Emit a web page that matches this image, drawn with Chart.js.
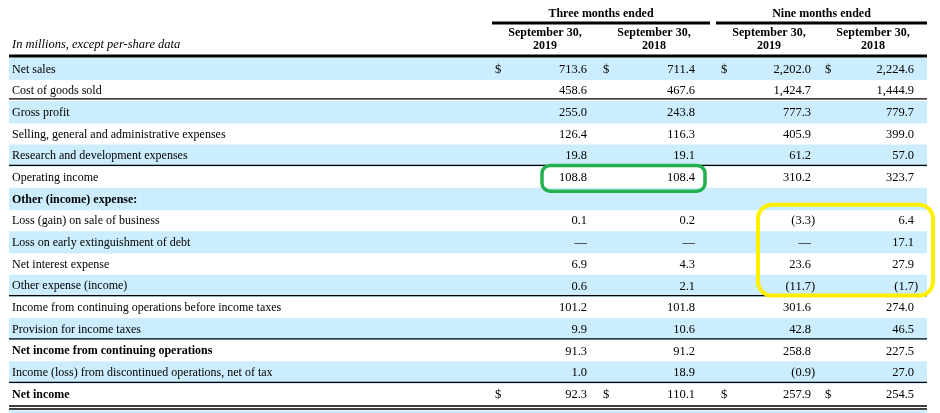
<!DOCTYPE html>
<html>
<head>
<meta charset="utf-8">
<script src="https://cdn.jsdelivr.net/npm/chart.js@4.4.0/dist/chart.umd.min.js"></script>
<style>
  html, body { margin: 0; padding: 0; background: #fff; }
  #wrap { width: 940px; height: 413px; position: relative; }
</style>
</head>
<body>
<div id="wrap"><canvas id="incomeTable"></canvas></div>
<script>
var unitsNote = 'In millions, except per-share data';
var periodLabels = ['Three months ended', 'Nine months ended'];
var columnDates = [['September 30,', '2019'], ['September 30,', '2018'], ['September 30,', '2019'], ['September 30,', '2018']];

var rowLabels = [
    'Net sales',
    'Cost of goods sold',
    'Gross profit',
    'Selling, general and administrative expenses',
    'Research and development expenses',
    'Operating income',
    'Other (income) expense:',
    'Loss (gain) on sale of business',
    'Loss on early extinguishment of debt',
    'Net interest expense',
    'Other expense (income)',
    'Income from continuing operations before income taxes',
    'Provision for income taxes',
    'Net income from continuing operations',
    'Income (loss) from discontinued operations, net of tax',
    'Net income'
];

// null = empty cell, 0 = shown as a dash
var threeMonths2019 = [713.6, 458.6, 255.0, 126.4, 19.8, 108.8, null, 0.1, 0, 6.9, 0.6, 101.2, 9.9, 91.3, 1.0, 92.3];
var threeMonths2018 = [711.4, 467.6, 243.8, 116.3, 19.1, 108.4, null, 0.2, 0, 4.3, 2.1, 101.8, 10.6, 91.2, 18.9, 110.1];
var nineMonths2019 = [2202.0, 1424.7, 777.3, 405.9, 61.2, 310.2, null, -3.3, 0, 23.6, -11.7, 301.6, 42.8, 258.8, -0.9, 257.9];
var nineMonths2018 = [2224.6, 1444.9, 779.7, 399.0, 57.0, 323.7, null, 6.4, 17.1, 27.9, -1.7, 274.0, 46.5, 227.5, 27.0, 254.5];

var boldRows = [6, 13, 15];
var dollarRows = [0, 15];
var ruleRows = [1, 4, 10, 12, 14];
var doubleRuleRows = [15];

var columns = [threeMonths2019, threeMonths2018, nineMonths2019, nineMonths2018];

// layout on the x scale (0 = left edge of the table)
var TABLE_W = 918;
var valueRight = [578, 686, 802, 905];
var dollarLeft = [486, 594, 712, 816];
var dateCenter = [536, 645, 760, 864];
var periodSpan = [[483, 701], [707, 918]];

var STRIPE = 'rgb(204, 237, 253)';
var FONT = "'Liberation Serif', 'Times New Roman', serif";

function withCommas(s) {
    var parts = s.split('.');
    parts[0] = parts[0].replace(/\B(?=(\d{3})+(?!\d))/g, ',');
    return parts.join('.');
}

function formatValue(v) {
    if (v === null) return '';
    if (v === 0) return '\u2014';
    var s = withCommas(Math.abs(v).toFixed(1));
    return v < 0 ? '(' + s + ')' : s;
}

function roundBox(ctx, x, y, w, h, r) {
    ctx.beginPath();
    ctx.moveTo(x + r, y);
    ctx.arcTo(x + w, y, x + w, y + h, r);
    ctx.arcTo(x + w, y + h, x, y + h, r);
    ctx.arcTo(x, y + h, x, y, r);
    ctx.arcTo(x, y, x + w, y, r);
    ctx.closePath();
    ctx.stroke();
}

function hline(ctx, x1, x2, y, w) {
    ctx.beginPath();
    ctx.lineWidth = w;
    ctx.strokeStyle = '#000';
    ctx.moveTo(x1, y);
    ctx.lineTo(x2, y);
    ctx.stroke();
}

var tablePlugin = {
    id: 'tableText',
    afterDatasetsDraw: function(chart) {
        var ctx = chart.ctx;
        var xs = chart.scales.x;
        var ys = chart.scales.y;
        var area = chart.chartArea;
        var rowH = (area.bottom - area.top) / rowLabels.length;
        var left = xs.getPixelForValue(0);
        var right = xs.getPixelForValue(TABLE_W);

        ctx.save();
        ctx.fillStyle = '#000';
        ctx.textBaseline = 'middle';

        // header
        ctx.font = 'italic 12.5px ' + FONT;
        ctx.textAlign = 'left';
        ctx.fillText(unitsNote, xs.getPixelForValue(3), area.top - 13);

        ctx.font = 'bold 12px ' + FONT;
        ctx.textAlign = 'center';
        periodLabels.forEach(function(p, i) {
            var a = xs.getPixelForValue(periodSpan[i][0]);
            var b = xs.getPixelForValue(periodSpan[i][1]);
            ctx.fillText(p, (a + b) / 2, area.top - 44);
            hline(ctx, a, b, area.top - 35, 3);
        });
        columnDates.forEach(function(d, i) {
            var cx = xs.getPixelForValue(dateCenter[i]);
            ctx.fillText(d[0], cx, area.top - 25);
            ctx.fillText(d[1], cx, area.top - 12);
        });
        hline(ctx, left, right, area.top - 2, 3);

        // rows
        rowLabels.forEach(function(label, r) {
            var cy = ys.getPixelForValue(r) + 0.5;
            var bold = boldRows.indexOf(r) >= 0;
            ctx.font = (bold ? 'bold ' : '') + '12px ' + FONT;
            ctx.textAlign = 'left';
            ctx.fillText(label, xs.getPixelForValue(3), cy);

            ctx.font = '12.5px ' + FONT;
            columns.forEach(function(col, c) {
                var v = col[r];
                var txt = formatValue(v);
                if (!txt) return;
                var rx = xs.getPixelForValue(valueRight[c]);
                if (v < 0) rx += ctx.measureText(')').width;
                ctx.textAlign = 'right';
                ctx.fillText(txt, rx, cy);
                if (dollarRows.indexOf(r) >= 0) {
                    ctx.textAlign = 'left';
                    ctx.fillText('$', xs.getPixelForValue(dollarLeft[c]), cy);
                }
            });

            var bottom = cy - 0.5 + rowH / 2;
            if (ruleRows.indexOf(r) >= 0) {
                hline(ctx, left, right, bottom - (r === 1 ? 2.5 : 1), 1.3);
            }
            if (doubleRuleRows.indexOf(r) >= 0) {
                hline(ctx, left, right, bottom + 1, 1.5);
                hline(ctx, left, right, bottom + 4, 1.5);
                ctx.fillStyle = STRIPE;
                ctx.fillRect(left, bottom + 5.5, right - left, chart.height - bottom - 5.5);
                ctx.fillStyle = '#000';
            }
        });

        // highlight boxes
        var r5 = ys.getPixelForValue(5);
        ctx.lineWidth = 3.5;
        ctx.strokeStyle = 'rgb(34, 177, 76)';
        var gx1 = xs.getPixelForValue(valueRight[0]) - 45;
        var gx2 = xs.getPixelForValue(valueRight[1]) + 10;
        roundBox(ctx, gx1, r5 - rowH / 2 - 1, gx2 - gx1, rowH + 4, 8);

        var top7 = ys.getPixelForValue(7) - rowH / 2;
        var bot10 = ys.getPixelForValue(10) + rowH / 2;
        ctx.strokeStyle = 'rgb(255, 240, 0)';
        ctx.lineWidth = 4;
        var yx1 = xs.getPixelForValue(valueRight[2]) - 53;
        var yx2 = xs.getPixelForValue(valueRight[3]) + 19;
        roundBox(ctx, yx1, top7 - 5, yx2 - yx1, bot10 - top7 + 4, 14);

        ctx.restore();
    }
};

var stripes = rowLabels.map(function(l, i) {
    return i % 2 === 0 ? [0, TABLE_W] : null;
});

new Chart(document.getElementById('incomeTable'), {
    type: 'bar',
    data: {
        labels: rowLabels,
        datasets: [{
            data: stripes,
            backgroundColor: STRIPE,
            borderWidth: 0,
            barPercentage: 1,
            categoryPercentage: 1
        }]
    },
    options: {
        indexAxis: 'y',
        responsive: true,
        maintainAspectRatio: false,
        animation: false,
        layout: { padding: { top: 58, left: 9, right: 13, bottom: 8 } },
        plugins: { legend: { display: false }, tooltip: { enabled: false } },
        scales: {
            x: { type: 'linear', min: 0, max: TABLE_W, display: false },
            y: { display: false }
        }
    },
    plugins: [tablePlugin]
});
</script>
</body>
</html>
